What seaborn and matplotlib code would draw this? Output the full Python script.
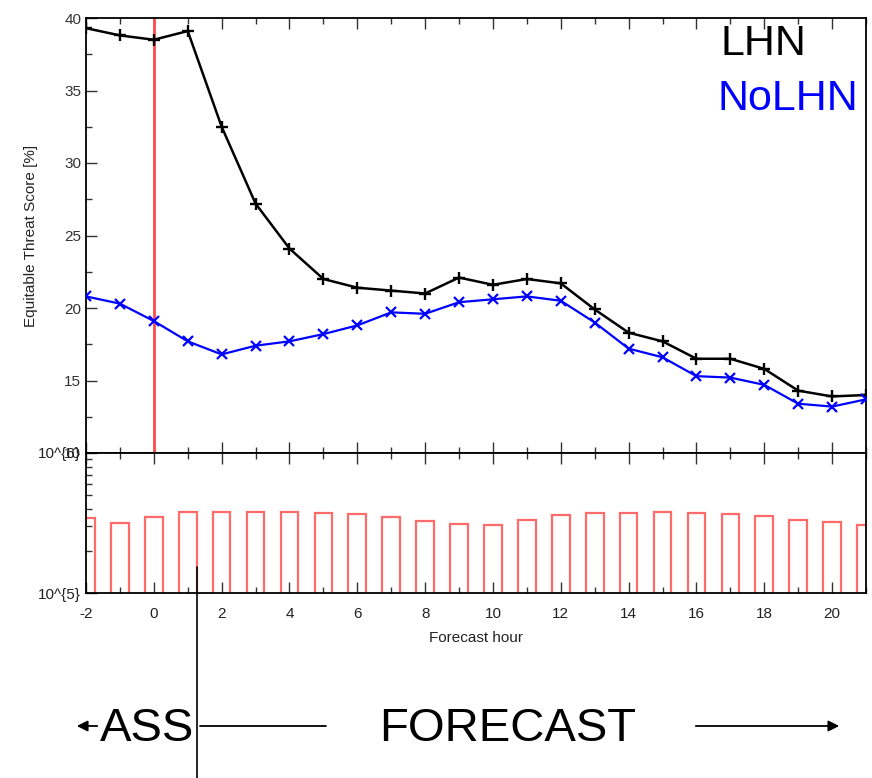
import numpy as np
import matplotlib
matplotlib.use("Agg")
import matplotlib.pyplot as plt
from matplotlib.lines import Line2D
from matplotlib.patches import FancyArrowPatch
from matplotlib.ticker import MultipleLocator, NullFormatter, FixedLocator, FixedFormatter
import seaborn as sns

# values
hours = list(range(-2, 22))
ets_lhn = [39.3, 38.8, 38.5, 39.1, 32.5, 27.2, 24.1, 22.0, 21.4, 21.2, 21.0, 22.1,
           21.6, 22.0, 21.7, 19.9, 18.3, 17.7, 16.5, 16.5, 15.8, 14.3, 13.9, 14.0]
ets_nolhn = [20.8, 20.3, 19.1, 17.7, 16.8, 17.4, 17.7, 18.2, 18.8, 19.7, 19.6, 20.4,
             20.6, 20.8, 20.5, 19.0, 17.2, 16.6, 15.3, 15.2, 14.7, 13.4, 13.2, 13.7]
n_obs = [344000, 318000, 349000, 379000, 381000, 381000, 379000, 375000, 366000, 348000,
         328000, 313000, 306000, 334000, 362000, 375000, 375000, 379000, 375000, 366000,
         356000, 334000, 321000, 305000]
top_ticks = [10, 15, 20, 25, 30, 35, 40]
bottom_tick_labels = ["10^{5}", "10^{6}"]

sns.set_style("ticks")
plt.rcParams["font.family"] = ["Liberation Sans", "DejaVu Sans"]
plt.rcParams["xtick.direction"] = "in"
plt.rcParams["ytick.direction"] = "in"
plt.rcParams["axes.unicode_minus"] = False

W, H = 872, 778
fig = plt.figure(figsize=(W / 100, H / 100), dpi=100)

def box(x0, y0, x1, y1):
    return [x0 / W, 1 - y1 / H, (x1 - x0) / W, (y1 - y0) / H]

ax1 = fig.add_axes(box(86, 18, 866, 453))
ax2 = fig.add_axes(box(86, 453, 866, 593))

# top panel: ETS curves
ax1.axvline(0, color="#ff4a4a", lw=2, zorder=1)
sns.lineplot(x=hours, y=ets_lhn, color="black", marker="+", markersize=8,
             markeredgewidth=1.7, markeredgecolor="black", lw=1.8, ax=ax1, zorder=3)
sns.lineplot(x=hours, y=ets_nolhn, color="#0000ff", marker="x", markersize=6.5,
             markeredgewidth=1.6, markeredgecolor="#0000ff", lw=1.6, ax=ax1, zorder=3)
ax1.set_xlim(-2, 21)
ax1.set_ylim(10, 40)
ax1.yaxis.set_major_locator(FixedLocator(top_ticks))
ax1.yaxis.set_minor_locator(MultipleLocator(2.5))
ax1.xaxis.set_major_locator(MultipleLocator(2))
ax1.xaxis.set_minor_locator(MultipleLocator(1))
ax1.set_xticklabels([])
ax1.tick_params(which="both", top=True, right=False, labelsize=11, colors="#333333",
                labelcolor="#333333")
ax1.tick_params(which="major", length=8, width=1)
ax1.tick_params(which="minor", length=4, width=1)
ax1.set_ylabel("Equitable Threat Score [%]", fontsize=11, color="#222222", labelpad=19)
for s in ax1.spines.values():
    s.set_linewidth(1.3)
    s.set_color("black")

ax1.text(0.813, 0.94, "LHN", transform=ax1.transAxes, fontsize=31, color="black",
         va="center", ha="left")
ax1.text(0.81, 0.813, "NoLHN", transform=ax1.transAxes, fontsize=31, color="#0000ff",
         va="center", ha="left")

# bottom panel: number of observations
sns.barplot(x=hours, y=n_obs, native_scale=True, fill=False, width=0.52,
            color="#ff6a6a", linewidth=1.6, ax=ax2)
ax2.set_yscale("log")
ax2.set_xlim(-2, 21)
ax2.set_ylim(1e5, 1e6)
ax2.yaxis.set_major_locator(FixedLocator([1e5, 1e6]))
ax2.yaxis.set_major_formatter(FixedFormatter(bottom_tick_labels))
ax2.yaxis.set_minor_formatter(NullFormatter())
ax2.xaxis.set_major_locator(MultipleLocator(2))
ax2.xaxis.set_minor_locator(MultipleLocator(1))
ax2.tick_params(which="both", top=True, right=False, labelsize=11, colors="#333333",
                labelcolor="#222222")
ax2.tick_params(axis="x", which="major", pad=10)
ax2.tick_params(which="major", length=8, width=1)
ax2.tick_params(which="minor", length=4, width=1)
ax2.set_xlabel("Forecast hour", fontsize=11, color="#222222", labelpad=7)
for s in ax2.spines.values():
    s.set_linewidth(1.3)
    s.set_color("black")

# annotation below the chart
big = dict(fontsize=34, color="black", va="center")
fig.text(100 / W, 1 - 729 / H, "ASS", ha="left", **big)
fig.text(508 / W, 1 - 729 / H, "FORECAST", ha="center", **big)

fig.add_artist(Line2D([197 / W, 197 / W], [1 - 567 / H, 0], color="black", lw=1.2))
fig.add_artist(Line2D([200 / W, 326 / W], [1 - 726 / H, 1 - 726 / H], color="black", lw=1.3))
fig.add_artist(FancyArrowPatch(
    (100 / W, 1 - 726 / H), (74 / W, 1 - 726 / H), transform=fig.transFigure,
    arrowstyle="-|>", mutation_scale=16, color="black", lw=1.3))
fig.add_artist(FancyArrowPatch(
    (693 / W, 1 - 726 / H), (842 / W, 1 - 726 / H), transform=fig.transFigure,
    arrowstyle="-|>", mutation_scale=16, color="black", lw=1.3))

fig.savefig("out.png", dpi=100)
